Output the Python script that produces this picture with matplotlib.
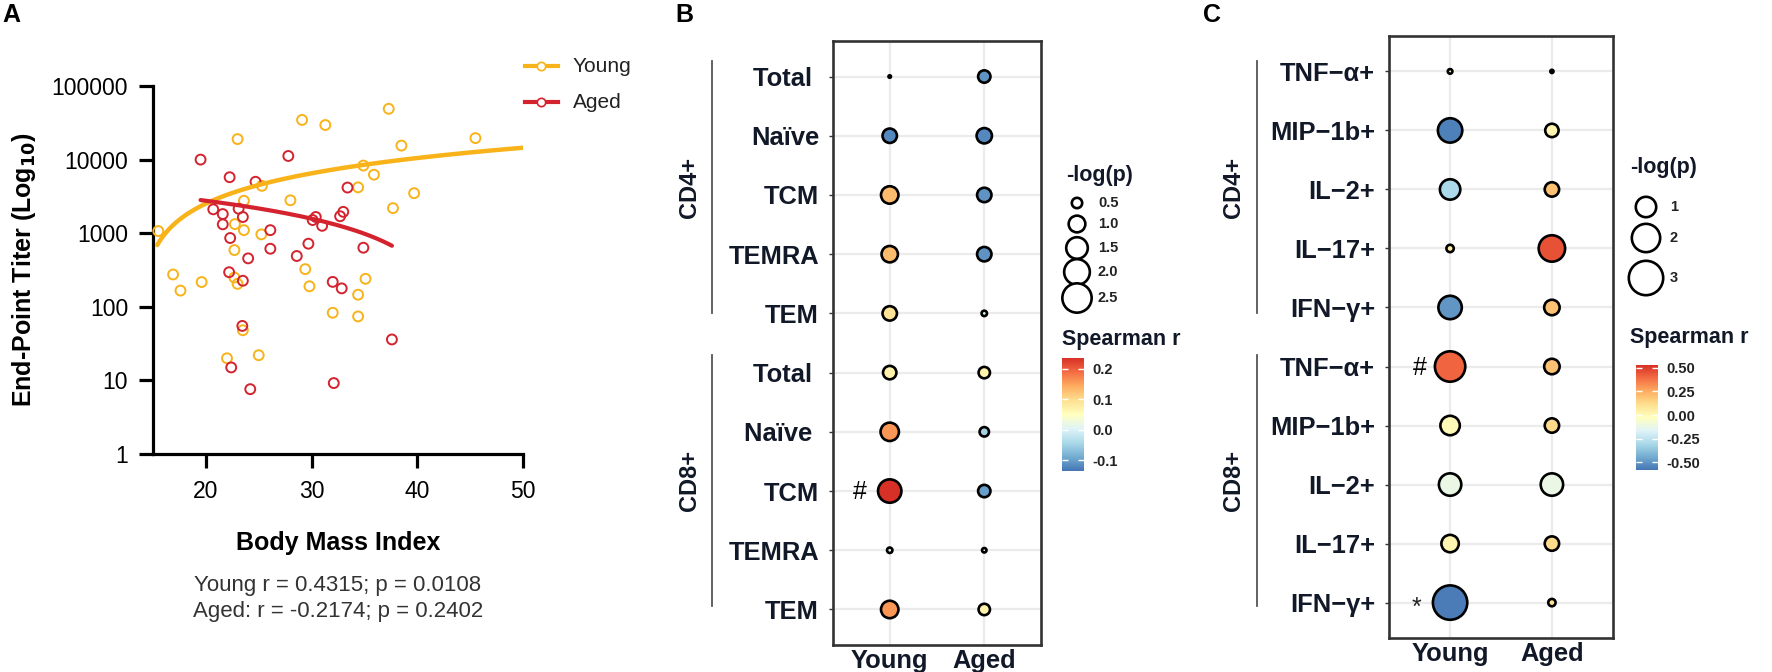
import numpy as np
import matplotlib
matplotlib.use('Agg')
import matplotlib.pyplot as plt
from matplotlib.colors import Normalize, LinearSegmentedColormap
from matplotlib.ticker import FixedLocator, FixedFormatter

plt.rcParams['font.family'] = ['Liberation Sans', 'DejaVu Sans']

W, H = 1772, 672
DPI = 100

# ---------------- panel A data ----------------
young_bmi = [15.5, 16.9, 17.6, 19.6, 23.0, 23.6, 22.75, 23.6, 22.7, 22.7, 23.0,
             22.0, 23.5, 25.0, 25.3, 25.25, 28.0, 29.1, 31.3, 29.4, 29.8, 32.0,
             34.4, 34.4, 35.1, 34.9, 34.4, 35.9, 37.3, 37.7, 38.5, 39.7, 45.5]
young_titer = [1070, 275, 166, 217, 19000, 2760, 1330, 1100, 590, 250, 205,
               20, 48, 22, 4400, 965, 2800, 34600, 29500, 325, 190, 83,
               146, 74, 240, 8300, 4200, 6240, 49000, 2190, 15500, 3500, 19600]
aged_bmi = [19.5, 22.25, 24.7, 27.8, 20.7, 21.6, 21.6, 23.1, 23.5, 22.3, 26.1,
            26.1, 24.0, 22.2, 23.5, 28.6, 29.7, 30.1, 30.4, 31.0, 23.45, 22.4,
            24.2, 32.1, 32.0, 32.85, 34.9, 32.7, 33.0, 33.4, 37.6]
aged_titer = [10000, 5760, 5000, 11200, 2110, 1820, 1320, 2150, 1660, 860, 1100,
              615, 455, 295, 226, 490, 720, 1510, 1660, 1260, 55, 15,
              7.6, 9.2, 218, 178, 635, 1700, 1950, 4170, 36]
# linear regression lines (intercept, slope)
young_fit = (-5456, 399.1)
aged_fit = (5131, -118.5)
a_xticks = [20, 30, 40, 50]
a_yticks = [1, 10, 100, 1000, 10000, 100000]
stats_text = ['Young r = 0.4315; p = 0.0108', 'Aged: r = -0.2174; p = 0.2402']

# ---------------- panel B data ----------------
groups = ['Young', 'Aged']
b_rows = ['Total ', 'Naïve', 'TCM', 'TEMRA', 'TEM',
          'Total ', 'Naïve ', 'TCM', 'TEMRA', 'TEM']
b_r_young = [0.03, -0.12, 0.13, 0.13, 0.09, 0.07, 0.16, 0.235, 0.0, 0.16]
b_r_aged = [-0.11, -0.12, -0.11, -0.11, 0.0, 0.07, -0.05, -0.10, 0.0, 0.07]
b_p_young = [0.12, 0.80, 1.07, 0.97, 0.80, 0.72, 1.16, 1.71, 0.23, 1.07]
b_p_aged = [0.64, 0.88, 0.80, 0.80, 0.23, 0.57, 0.44, 0.64, 0.19, 0.57]
b_size_breaks = [0.5, 1.0, 1.5, 2.0, 2.5]
b_color_ticks = [0.2, 0.1, 0.0, -0.1]

# ---------------- panel C data ----------------
c_rows = ['TNF−α+', 'MIP−1b+', 'IL−2+', 'IL−17+', 'IFN−γ+',
          'TNF−α+', 'MIP−1b+', 'IL−2+', 'IL−17+', 'IFN−γ+']
c_r_young = [0.0, -0.55, -0.30, 0.05, -0.50, 0.41, 0.0, -0.12, 0.02, -0.56]
c_r_aged = [0.0, 0.02, 0.20, 0.45, 0.20, 0.20, 0.13, -0.12, 0.13, 0.10]
c_p_young = [0.03, 1.46, 1.0, 0.10, 1.34, 2.32, 0.90, 1.22, 0.71, 3.0]
c_p_aged = [0.01, 0.40, 0.47, 1.73, 0.55, 0.55, 0.47, 1.22, 0.47, 0.10]
c_size_breaks = [1, 2, 3]
c_color_ticks = [0.50, 0.25, 0.00, -0.25, -0.50]

YOUNG_C = '#F8B31A'
AGED_C = '#D4232E'
TXT = '#111827'
EDGE_PX = 2.6

# 9-class RdYlBu, reversed (blue -> red)
spearman_cmap = LinearSegmentedColormap.from_list(
    'rdylbu9', ['#4575B4', '#74ADD1', '#ABD9E9', '#E0F3F8', '#FFFFBF',
                '#FEE090', '#FDAE61', '#F46D43', '#D73027'])


def rect(l, t, r, b):
    return [l / W, 1 - b / H, (r - l) / W, (b - t) / H]


def px2s(d_px):
    d = np.maximum(np.asarray(d_px, float) - EDGE_PX, 1.0) * 72 / DPI
    return d ** 2


def diam_b(v):
    return -2.4 + 21.7 * np.sqrt(np.asarray(v, float))


def diam_c(v):
    return 3.9 + 19.1 * np.sqrt(np.asarray(v, float))


fig = plt.figure(figsize=(W / DPI, H / DPI), dpi=DPI)

# ================= panel A =================
ax = fig.add_axes(rect(153, 86, 523, 454))
ax.set_yscale('log')
ax.set_xlim(15, 50)
ax.set_ylim(1, 100000)
ax.scatter(young_bmi, young_titer, s=px2s(12.5), facecolors='none',
           edgecolors=YOUNG_C, linewidths=1.4, zorder=3, clip_on=False)
ax.scatter(aged_bmi, aged_titer, s=px2s(12.5), facecolors='none',
           edgecolors=AGED_C, linewidths=1.4, zorder=3, clip_on=False)
xs = np.linspace(min(young_bmi) - 0.1, 50, 200)
ax.plot(xs, young_fit[0] + young_fit[1] * xs, color=YOUNG_C, lw=3.2, zorder=4,
        solid_capstyle='round')
xs = np.linspace(min(aged_bmi), max(aged_bmi), 200)
ax.plot(xs, aged_fit[0] + aged_fit[1] * xs, color=AGED_C, lw=3.0, zorder=4,
        solid_capstyle='round')
for s in ['top', 'right']:
    ax.spines[s].set_visible(False)
for s in ['left', 'bottom']:
    ax.spines[s].set_linewidth(2.3)
ax.yaxis.set_major_locator(FixedLocator(a_yticks))
ax.yaxis.set_major_formatter(FixedFormatter([str(v) for v in a_yticks]))
ax.yaxis.set_minor_locator(FixedLocator([]))
ax.set_xticks(a_xticks)
ax.tick_params(axis='both', which='major', length=10, width=2.3,
               labelsize=16.5, direction='out')
ax.tick_params(axis='y', pad=8)
ax.tick_params(axis='x', pad=9)
ax.set_xlabel('Body Mass Index', fontsize=18, fontweight='bold', labelpad=20)
ax.set_ylabel('End-Point Titer (Log$_{\\mathbf{10}}$)', fontsize=18,
              fontweight='bold', labelpad=10)
fig.text(338 / W, 1 - 585 / H, stats_text[0], fontsize=16, color='#333333',
         ha='center', va='center')
fig.text(338 / W, 1 - 612 / H, stats_text[1], fontsize=16, color='#333333',
         ha='center', va='center')


# ================= panels B and C =================
def dot_panel(box, rows, r_young, r_aged, p_young, p_aged, diam, norm):
    ax = fig.add_axes(rect(*box))
    ax.set_xlim(-0.6, 1.6)
    ax.set_ylim(len(rows) - 0.4, -0.6)
    ax.set_axisbelow(True)
    ax.grid(color='#EBEBEB', lw=1.6)
    sc = None
    for j, (rv, pv) in enumerate([(r_young, p_young), (r_aged, p_aged)]):
        sc = ax.scatter([j] * len(rows), range(len(rows)), s=px2s(diam(pv)),
                        c=rv, cmap=spearman_cmap, norm=norm, edgecolors='black',
                        linewidths=1.9, zorder=3)
    for s in ax.spines.values():
        s.set_linewidth(1.9)
        s.set_color('#333333')
    ax.set_xticks(range(len(groups)))
    ax.set_xticklabels(groups)
    ax.set_yticks(range(len(rows)))
    ax.set_yticklabels(rows)
    ax.tick_params(axis='y', length=3, width=1, color='#333333', pad=7,
                   labelsize=18.4, labelcolor=TXT)
    ax.tick_params(axis='x', length=0, pad=3, labelsize=18.4, labelcolor=TXT)
    for t in ax.get_xticklabels() + ax.get_yticklabels():
        t.set_fontweight('bold')
    return ax, sc


norm_b = Normalize(-0.136, 0.236)
norm_c = Normalize(-0.58, 0.53)
axb, scb = dot_panel((833, 41, 1041, 645), b_rows, b_r_young, b_r_aged,
                     b_p_young, b_p_aged, diam_b, norm_b)
axc, scc = dot_panel((1389, 36, 1613, 638), c_rows, c_r_young, c_r_aged,
                     c_p_young, c_p_aged, diam_c, norm_c)

# significance marks
axb.text(-0.32, 7 + 0.14, '#', fontsize=18, ha='center', va='baseline',
         color='black')
axc.text(-0.30, 5 + 0.14, '#', fontsize=18, ha='center', va='baseline',
         color='black')
axc.text(-0.33, 9 + 0.2, '*', fontsize=18, ha='center', va='baseline',
         color='#222222')

# colorbars
for box, sc, ticks, fmt in [((1062, 358, 1084, 471), scb, b_color_ticks, '%.1f'),
                            ((1636, 365, 1658, 470), scc, c_color_ticks, '%.2f')]:
    cax = fig.add_axes(rect(*box))
    cb = fig.colorbar(sc, cax=cax, ticks=ticks, format=fmt)
    cb.outline.set_visible(False)
    cax.tick_params(length=4, width=1, color='white', direction='in',
                    left=True, right=True, labelleft=False, labelright=True,
                    labelsize=10.5, labelcolor='#222222', pad=6)
    for t in cax.get_yticklabels():
        t.set_fontweight('bold')

# overlay in pixel coordinates for legends and group brackets
ov = fig.add_axes([0, 0, 1, 1], zorder=10)
ov.set_xlim(0, W)
ov.set_ylim(H, 0)
ov.axis('off')

# panel A legend
for label, col, yy in [('Young', YOUNG_C, 66), ('Aged', AGED_C, 102)]:
    ov.plot([525, 558], [yy, yy], color=col, lw=3)
    ov.plot([541.5], [yy], marker='o', ms=6, mfc='white', mec=col, mew=1.2)
    ov.text(573, yy, label, fontsize=15, va='center', ha='left', color='#222222')

# panel labels
for lab, xx in [('A', 2), ('B', 675), ('C', 1203)]:
    ov.text(xx, 15, lab, fontsize=18, fontweight='bold', va='center', ha='left')

# group brackets
for xl, xt in [(712, 690), (1257, 1234)]:
    ov.plot([xl, xl], [61, 313], color='#555555', lw=1.3)
    ov.plot([xl, xl], [355, 606], color='#555555', lw=1.3)
    ov.text(xt, 187, 'CD4+', rotation=90, fontsize=17, fontweight='bold',
            ha='center', va='center', color=TXT)
    ov.text(xt, 480, 'CD8+', rotation=90, fontsize=17, fontweight='bold',
            ha='center', va='center', color=TXT)

# size legends
ov.text(1066, 175, '-log(p)', fontsize=15.5, fontweight='bold', va='center',
        ha='left', color=TXT)
b_key_y = [203, 224, 248, 272, 298]
ov.scatter([1077] * len(b_size_breaks), b_key_y, s=px2s(diam_b(b_size_breaks)),
           facecolors='white', edgecolors='black', linewidths=1.9)
for v, yy in zip(b_size_breaks, b_key_y):
    ov.text(1098, yy, '%.1f' % v, fontsize=10.5, fontweight='bold',
            va='center', ha='left', color='#222222')
ov.text(1062, 339, 'Spearman r', fontsize=15.5, fontweight='bold', va='center',
        ha='left', color=TXT)

ov.text(1630, 168, '-log(p)', fontsize=15.5, fontweight='bold', va='center',
        ha='left', color=TXT)
c_key_y = [207, 238, 278]
ov.scatter([1646] * len(c_size_breaks), c_key_y, s=px2s(diam_c(c_size_breaks)),
           facecolors='white', edgecolors='black', linewidths=1.9)
for v, yy in zip(c_size_breaks, c_key_y):
    ov.text(1670, yy, '%d' % v, fontsize=10.5, fontweight='bold',
            va='center', ha='left', color='#222222')
ov.text(1630, 338, 'Spearman r', fontsize=15.5, fontweight='bold', va='center',
        ha='left', color=TXT)

fig.savefig('out.png', dpi=DPI)
